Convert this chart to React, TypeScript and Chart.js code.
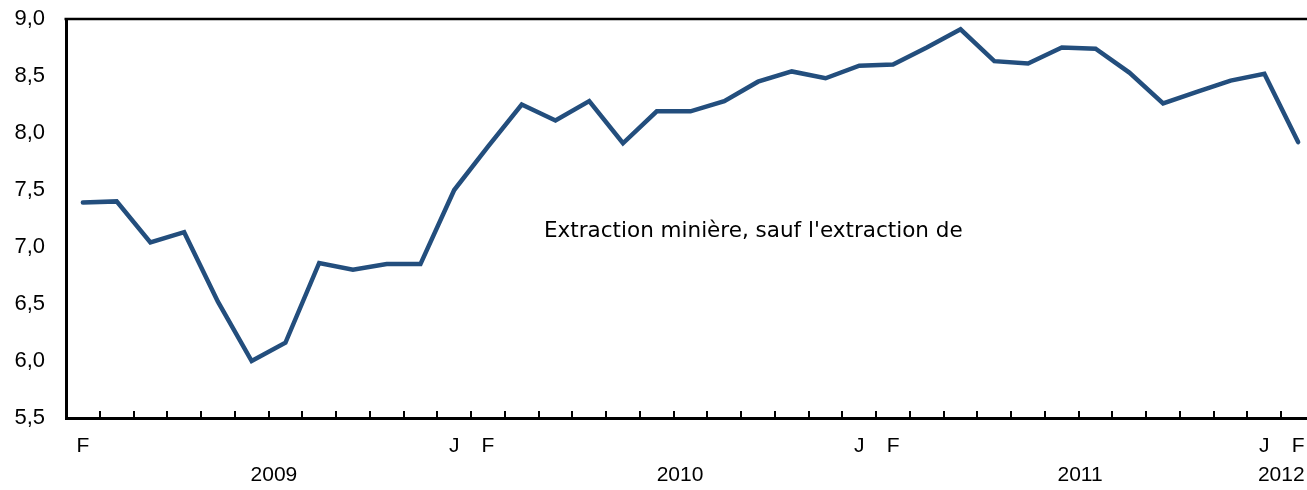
import React, { useEffect, useRef } from "react";
import { Chart, registerables } from "chart.js";

Chart.register(...registerables);

// Monthly categories, February 2009 to February 2012 (37 months)
const tickLabels: string[] = [
  "F", "", "", "", "", "", "", "", "", "", "",
  "J", "F", "", "", "", "", "", "", "", "", "", "",
  "J", "F", "", "", "", "", "", "", "", "", "", "",
  "J", "F",
];

// Index (in categories) near which each year label is centred
const yearLabels: string[] = ["2009", "2010", "2011", "2012"];
const yearCentres: number[] = [5.66, 17.69, 29.54, 35.5];

const values: number[] = [
  7.39, 7.40, 7.04, 7.13, 6.52, 6.00, 6.16, 6.86, 6.80, 6.85, 6.85,
  7.50, 7.88, 8.25, 8.11, 8.28, 7.91, 8.19, 8.19, 8.28, 8.45, 8.54, 8.48,
  8.59, 8.60, 8.75, 8.91, 8.63, 8.61, 8.75, 8.74, 8.53, 8.26, 8.36, 8.46,
  8.52, 7.92,
];

const yMin = 5.5;
const yMax = 9.0;
const yStep = 0.5;

const annotationText = "Extraction minière, sauf l'extraction de";
const annotationIndex = 13.66;
const annotationValue = 7.09;

const LINE_COLOR = "#234E7D";
const TICK_FONT = '"Liberation Sans", Arial, sans-serif';

const decorPlugin = {
  id: "decor",
  afterDraw(chart: any) {
    const { ctx, chartArea } = chart;
    const x = chart.scales.x;
    const y = chart.scales.y;
    ctx.save();
    // top frame line
    ctx.strokeStyle = "#000";
    ctx.lineWidth = 2.5;
    ctx.beginPath();
    ctx.moveTo(chartArea.left - 1.5, chartArea.top);
    ctx.lineTo(chartArea.right, chartArea.top);
    ctx.stroke();
    // inner tick marks between categories
    ctx.lineWidth = 2;
    for (let k = 1; k < tickLabels.length; k++) {
      const px = Math.round(x.getPixelForValue(k - 0.5));
      ctx.beginPath();
      ctx.moveTo(px, chartArea.bottom);
      ctx.lineTo(px, chartArea.bottom - 7);
      ctx.stroke();
    }
    // year labels
    ctx.fillStyle = "#000";
    ctx.font = `21px ${TICK_FONT}`;
    ctx.textAlign = "center";
    ctx.textBaseline = "alphabetic";
    for (let i = 0; i < yearLabels.length; i++) {
      ctx.fillText(yearLabels[i], x.getPixelForValue(yearCentres[i]), chartArea.bottom + 63);
    }
    // annotation
    ctx.font = '21.5px "DejaVu Sans", sans-serif';
    ctx.textAlign = "left";
    ctx.fillText(annotationText, x.getPixelForValue(annotationIndex), y.getPixelForValue(annotationValue));
    ctx.restore();
  },
};

export default function App() {
  const canvasRef = useRef<HTMLCanvasElement | null>(null);

  useEffect(() => {
    const canvas = canvasRef.current;
    if (!canvas) return;
    const chart = new Chart(canvas, {
      type: "line",
      data: {
        labels: tickLabels,
        datasets: [
          {
            data: values,
            borderColor: LINE_COLOR,
            borderWidth: 4.5,
            pointRadius: 0,
            tension: 0,
            fill: false,
            borderCapStyle: "round",
            borderJoinStyle: "miter",
          },
        ],
      },
      options: {
        animation: false,
        responsive: false,
        maintainAspectRatio: false,
        layout: { padding: { top: 19, left: 0, right: 0, bottom: 0 } },
        plugins: {
          legend: { display: false },
          tooltip: { enabled: false },
        },
        scales: {
          x: {
            type: "category",
            offset: true,
            grid: { display: false, drawTicks: false, offset: true },
            border: { display: true, color: "#000", width: 3 },
            ticks: {
              autoSkip: false,
              maxRotation: 0,
              minRotation: 0,
              padding: 16,
              color: "#000",
              font: { family: TICK_FONT, size: 21 },
            },
            afterFit: (scale: any) => {
              scale.height = 72;
              scale.paddingLeft = 0;
              scale.paddingRight = 0;
            },
          },
          y: {
            min: yMin,
            max: yMax,
            grid: { display: false, drawTicks: false },
            border: { display: true, color: "#000", width: 3 },
            ticks: {
              stepSize: yStep,
              padding: 21,
              color: "#000",
              font: { family: TICK_FONT, size: 22 },
              callback: (v: any) => Number(v).toFixed(1).replace(".", ","),
            },
            afterFit: (scale: any) => {
              scale.width = 66;
              scale.paddingTop = 0;
              scale.paddingBottom = 0;
            },
          },
        },
      },
      plugins: [decorPlugin],
    });
    return () => chart.destroy();
  }, []);

  return (
    <div
      style={{
        position: "fixed",
        left: 0,
        top: 0,
        width: 1307,
        height: 490,
        overflow: "hidden",
        background: "#fff",
      }}
    >
      <canvas ref={canvasRef} width={1315} height={490} style={{ display: "block" }} />
    </div>
  );
}
